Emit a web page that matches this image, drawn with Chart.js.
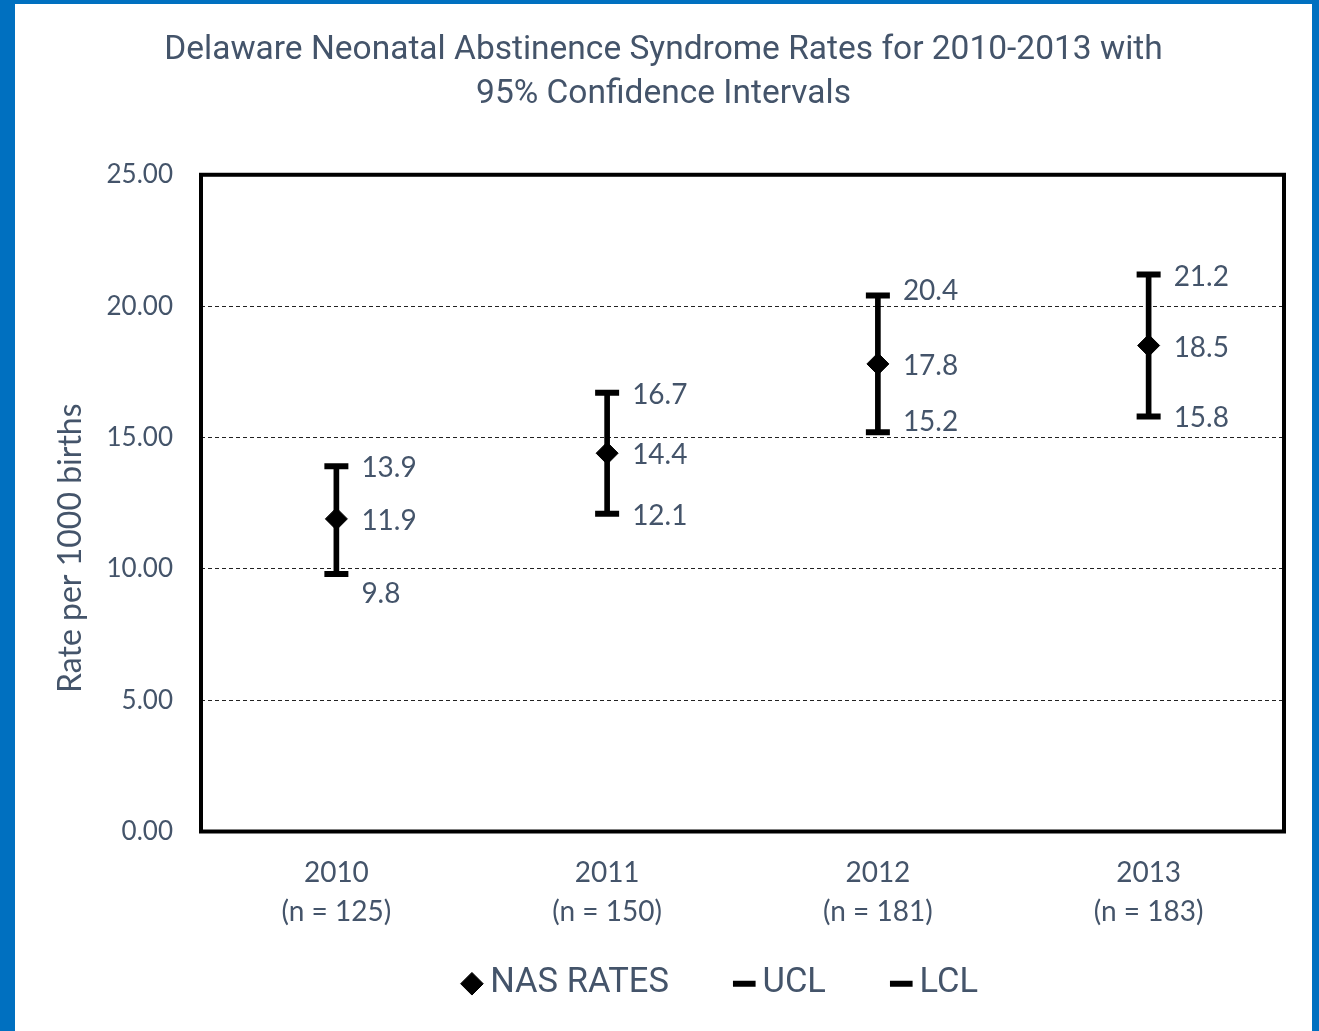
<!DOCTYPE html>
<html>
<head>
<meta charset="utf-8">
<script src="https://cdn.jsdelivr.net/npm/chart.js@4"></script>
<style>
  html, body { margin: 0; padding: 0; background: #fff; }
  #frame {
    width: 1297px; height: 1027px;
    border-left: 15px solid #0070C0;
    border-top: 4px solid #0070C0;
    border-right: 7px solid #0070C0;
    background: #fff;
  }
</style>
</head>
<body>
<div id="frame"><canvas id="chart" width="1297" height="1027"></canvas></div>
<script>
const years = ["2010", "2011", "2012", "2013"];
const births = [125, 150, 181, 183];
const nasRates = [11.9, 14.4, 17.8, 18.5];
const ucl = [13.9, 16.7, 20.4, 21.2];
const lcl = [9.8, 12.1, 15.2, 15.8];
const yTicks = [0, 5, 10, 15, 20, 25];

const textColor = "#44546A";
const bodyFont = "Lato, 'Open Sans', sans-serif";
const narrowFont = "Roboto, sans-serif";

const labels = years.map((y, i) => [y, "(n = " + births[i] + ")"]);

// frame around the plot area
const plotFrame = {
  id: "plotFrame",
  afterDraw(chart) {
    const { ctx, chartArea: a } = chart;
    ctx.save();
    ctx.strokeStyle = "#000";
    ctx.lineWidth = 4;
    ctx.strokeRect(a.left, a.top, a.right - a.left, a.bottom - a.top);
    ctx.restore();
  }
};

// title and legend sit a bit right of centre in the original
const nudge = {
  id: "nudge",
  afterLayout(chart) {
    chart.legend.left += 75;
    chart.legend.right += 75;
    chart.titleBlock.left += 14;
    chart.titleBlock.right += 14;
  }
};

// value labels right of each marker
const valueLabels = {
  id: "valueLabels",
  afterDatasetsDraw(chart) {
    const { ctx } = chart;
    ctx.save();
    ctx.font = "28px " + bodyFont;
    ctx.fillStyle = textColor;
    ctx.textAlign = "left";
    ctx.textBaseline = "middle";
    chart.data.datasets.forEach((ds, i) => {
      if (!ds.showValues) return;
      const meta = chart.getDatasetMeta(i);
      meta.data.forEach((pt, j) => {
        const dy = ds.labelShift ? ds.labelShift[j] : 0;
        ctx.fillText(ds.data[j].toFixed(1), pt.x + 25, pt.y + 2 + dy);
      });
    });
    ctx.restore();
  }
};

const config = {
  type: "bar",
  data: {
    labels: labels,
    datasets: [
      {
        label: "NAS RATES",
        type: "line",
        data: nasRates,
        showLine: false,
        pointStyle: "rectRot",
        pointRadius: 11,
        pointHoverRadius: 11,
        backgroundColor: "#000",
        borderColor: "#000",
        pointBorderWidth: 1,
        showValues: true,
        order: 0
      },
      {
        label: "UCL",
        type: "line",
        data: ucl,
        showLine: false,
        pointStyle: "line",
        pointRadius: 12,
        pointHoverRadius: 12,
        borderColor: "#000",
        backgroundColor: "#000",
        pointBorderWidth: 6,
        borderWidth: 6,
        showValues: true,
        labelShift: [0, 0, -7, 0],
        order: 1
      },
      {
        label: "LCL",
        type: "line",
        data: lcl,
        showLine: false,
        pointStyle: "line",
        pointRadius: 12,
        pointHoverRadius: 12,
        borderColor: "#000",
        backgroundColor: "#000",
        pointBorderWidth: 6,
        borderWidth: 6,
        showValues: true,
        labelShift: [18, 0, -12, 0],
        order: 2
      },
      {
        label: "range",
        data: lcl.map((v, i) => [v, ucl[i]]),
        backgroundColor: "#000",
        borderWidth: 0,
        barThickness: 5,
        order: 3
      }
    ]
  },
  options: {
    responsive: false,
    animation: false,
    layout: { padding: { left: 0, right: 28, top: 0, bottom: 20 } },
    plugins: {
      title: {
        display: true,
        text: ["Delaware Neonatal Abstinence Syndrome Rates for 2010-2013 with", "95% Confidence Intervals"],
        color: textColor,
        font: { family: narrowFont, size: 33.5, weight: "normal", lineHeight: 1.31 },
        padding: { top: 25, bottom: 58 }
      },
      legend: {
        position: "bottom",
        labels: {
          usePointStyle: true,
          boxWidth: 2,
          boxHeight: 16,
          padding: 23,
          color: textColor,
          font: { family: narrowFont, size: 34.5 },
          filter: (item) => item.text !== "range",
          generateLabels(chart) {
            const items = Chart.defaults.plugins.legend.labels.generateLabels(chart);
            // wider gaps between entries
            items.forEach((it) => {
              if (it.text === "NAS RATES" || it.text === "UCL") it.text += "      ";
            });
            return items;
          }
        }
      },
      tooltip: { enabled: false }
    },
    scales: {
      x: {
        grid: { display: false },
        border: { display: false },
        ticks: {
          color: textColor,
          font: { family: bodyFont, size: 28, lineHeight: 1.4 },
          padding: 14
        },
        afterFit(scale) { scale.height = 112; }
      },
      y: {
        min: 0,
        max: 25,
        afterBuildTicks(scale) {
          scale.ticks = yTicks.map((v) => ({ value: v }));
        },
        grid: {
          color: "#222",
          lineWidth: 1,
          drawTicks: false
        },
        border: { display: false, dash: [4, 3] },
        ticks: {
          color: textColor,
          font: { family: bodyFont, size: 26 },
          padding: 28,
          callback: (v) => Number(v).toFixed(2)
        },
        title: {
          display: true,
          text: "Rate per 1000 births" + "           ",
          color: textColor,
          font: { family: bodyFont, size: 32 },
          padding: { top: 36, bottom: 0 }
        },
        afterFit(scale) { scale.width = 186; }
      }
    }
  },
  plugins: [plotFrame, nudge, valueLabels]
};

new Chart(document.getElementById("chart"), config);
</script>
</body>
</html>
